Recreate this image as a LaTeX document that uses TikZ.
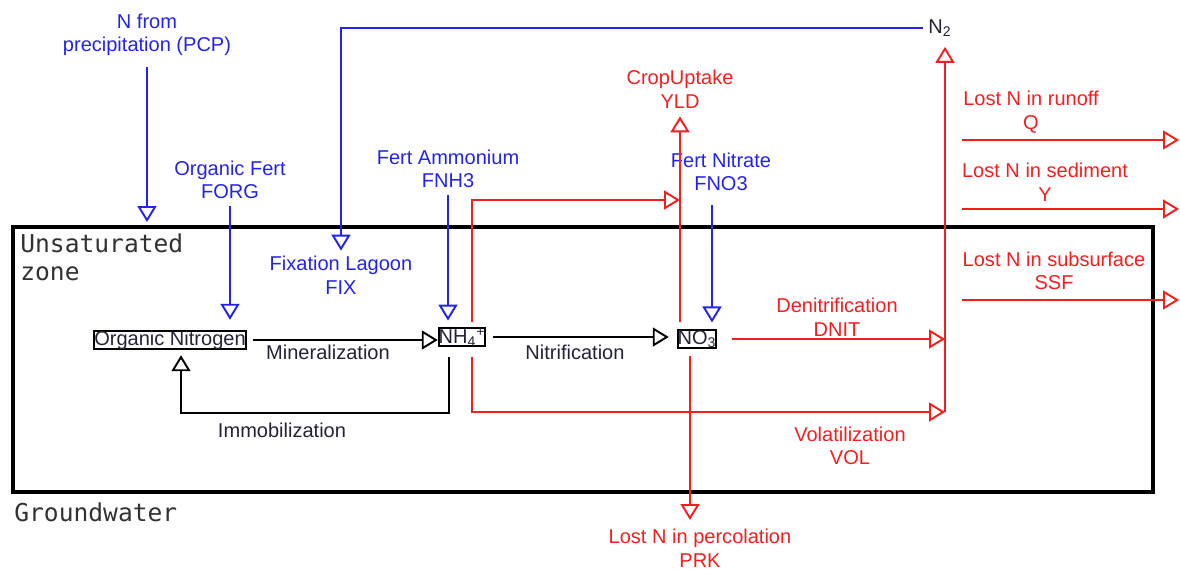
\documentclass[tikz,border=0pt]{standalone}
\usepackage{fontspec}
\setmainfont{Liberation Sans}
\newfontfamily\zonefont{DejaVu Sans Mono}
\usepackage{xcolor}
\usepackage{tikz}
\usetikzlibrary{arrows.meta, positioning, calc}
\definecolor{FlowBlue}{RGB}{35, 35, 240}
\definecolor{FlowRed}{RGB}{245, 30, 30}
\definecolor{FlowText}{RGB}{35, 35, 55}
\definecolor{ZoneGray}{RGB}{50, 50, 50}
\tikzset{
  openhead/.style={-{Triangle[open, length=3.2mm, width=3.8mm, fill=white]}},
  pool/.style={draw=black, line width=1pt, inner sep=1.2pt, text=FlowText},
  lbl/.style={align=center, inner sep=0pt, font=\fontsize{11.4}{13.4}\selectfont},
  inflow/.style={FlowBlue, line width=1.1pt, openhead},
  outflow/.style={FlowRed, line width=1.1pt, openhead},
  transfer/.style={black, line width=1.1pt, openhead},
  zonelbl/.style={anchor=north west, align=left, inner sep=0pt, text=ZoneGray,
    font=\zonefont\fontsize{14}{16}\selectfont},
}

\begin{document}
\begin{tikzpicture}[x=0.02cm, y=-0.02cm]
    \path[use as bounding box] (0,0) rectangle (1180,569);
    % soil zones
    \draw[black, line width=2pt] (13,227) rectangle (1153,492);
    \node[zonelbl] (unsat) at (20,233) {Unsaturated\\zone};
    \node[zonelbl] (gw) at (14,502) {Groundwater};

    % nitrogen pools
    \node[pool, lbl] (orgn) at (170,340) {Organic Nitrogen};
    \node[pool, lbl] (nh4) at (462,337) {NH\textsubscript{4}\textsuperscript{+}};
    \node[pool, lbl] (no3) at (697,339) {NO\textsubscript{3}};
    \node[lbl, text=FlowText] (n2) at (940,28) {N\textsubscript{2}};

    % inputs
    \node[lbl, text=FlowBlue] (pcp) at (147,35) {N from\\precipitation (PCP)};
    \node[lbl, text=FlowBlue] (forg) at (230,180) {Organic Fert\\FORG};
    \node[lbl, text=FlowBlue] (fix) at (341,275) {Fixation Lagoon\\FIX};
    \node[lbl, text=FlowBlue] (fnh3) at (448,169) {Fert Ammonium\\FNH3};
    \node[lbl, text=FlowBlue] (fno3) at (721,172) {Fert Nitrate\\FNO3};

    % losses
    \node[lbl, text=FlowRed] (yld) at (680,89) {CropUptake\\YLD};
    \node[lbl, text=FlowRed] (dnit) at (837,317) {Denitrification\\DNIT};
    \node[lbl, text=FlowRed] (vol) at (850,446) {Volatilization\\VOL};
    \node[lbl, text=FlowRed] (prk) at (700,548) {Lost N in percolation\\PRK};
    \node[lbl, text=FlowRed] (runoff) at (1031,112) {Lost N in runoff\\Q};
    \node[lbl, text=FlowRed] (sed) at (1045,182) {Lost N in sediment\\Y};
    \node[lbl, text=FlowRed] (ssf) at (1054,271) {Lost N in subsurface\\SSF};

    % transformations
    \node[lbl, text=FlowText] (minlbl) at (328,352) {Mineralization};
    \node[lbl, text=FlowText] (nitlbl) at (575,352) {Nitrification};
    \node[lbl, text=FlowText] (immlbl) at (282,430) {Immobilization};

    \coordinate (pcptip) at (147,222);
    \coordinate (fno3foot) at (712,205);
    \coordinate (uprow) at (0,200);
    \coordinate (volrow) at (0,412);
    \coordinate (immcol) at (181,413);
    \coordinate (n2col) at (945,0);
    \coordinate (prktip) at (690,520);
    \coordinate (qstart) at (962,140);
    \coordinate (qend) at (1179,140);
    \coordinate (ystart) at (962,209);
    \coordinate (yend) at (1179,209);
    \coordinate (ssfstart) at (962,300);
    \coordinate (ssfend) at (1179,300);

    % blue inflows
    \draw[inflow, shorten <=2.2mm] (pcp) -- (pcptip);
    \draw[inflow, shorten <=1.4mm, shorten >=2mm] (forg.south) -- (forg.south |- orgn.north);
    \draw[inflow, shorten <=1mm, shorten >=1mm] (n2.west) -| (fix.north);
    \draw[inflow, shorten <=1.4mm, shorten >=1.3mm] (fnh3.south) -- (fnh3.south |- nh4.north);
    \draw[inflow, shorten >=1.4mm] (fno3foot) -- (fno3foot |- no3.north);

    % black transfers
    \draw[transfer, shorten <=1.2mm] (orgn.east) -- (orgn.east -| nh4.west);
    \draw[transfer, shorten <=1.4mm, shorten >=1.6mm] (nh4.east) -- (nh4.east -| no3.west);
    \draw[transfer, shorten <=2mm, shorten >=1mm] ([xshift=-2.6mm]nh4.south) |- (immcol) -- (immcol |- orgn.south);

    % red losses
    \draw[outflow, shorten <=1.4mm, shorten >=1.6mm] (no3.north -| yld.south) -- (yld.south);
    \draw[outflow, shorten <=1mm] ([xshift=2mm]nh4.north) |- (yld.south |- uprow);
    \draw[outflow, shorten <=2mm] ([xshift=2mm]nh4.south) |- (n2col |- volrow);
    \draw[outflow, shorten <=3mm] (no3.east) -- (no3.east -| n2col);
    \draw[outflow, shorten >=2mm] (n2col |- volrow) -- (n2.south -| n2col);
    \draw[outflow, shorten <=1.4mm] (no3.south -| prktip) -- (prktip);
    \draw[outflow] (qstart) -- (qend);
    \draw[outflow] (ystart) -- (yend);
    \draw[outflow] (ssfstart) -- (ssfend);
\end{tikzpicture}
\end{document}
